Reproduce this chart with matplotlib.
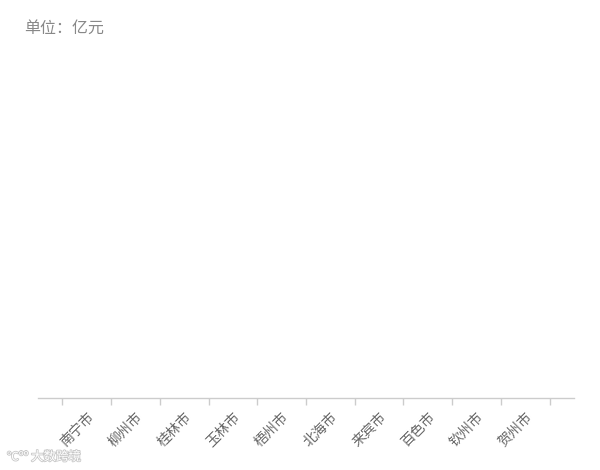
import matplotlib
matplotlib.use("Agg")
import matplotlib.pyplot as plt
import matplotlib.patheffects as pe
import matplotlib.transforms as mtrans

plt.rcParams['font.family'] = ['Noto Sans CJK SC', 'DejaVu Sans']

categories = ["南宁市", "柳州市", "桂林市", "玉林市", "梧州市", "北海市", "来宾市", "百色市", "钦州市", "贺州市"]
unit_label = "单位：亿元"
watermark = "大数跨境"

W, H = 600, 470
fig = plt.figure(figsize=(W / 100, H / 100), dpi=100)
ax = fig.add_axes([38 / W, 72 / H, (574 - 38) / W, (398 - 50) / H])

n = len(categories)
ax.set_xlim(-0.5, n + 0.5)
ax.set_ylim(0, 1)
ax.set_xticks(range(n + 1))
ax.set_xticklabels([])
ax.tick_params(axis='x', length=5, width=1, color='#cccccc', direction='out')
ax.set_yticks([])
for s in ['top', 'right', 'left']:
    ax.spines[s].set_visible(False)
ax.spines['bottom'].set_color('#cccccc')
ax.spines['bottom'].set_linewidth(1)

trans = ax.get_xaxis_transform()
offset = mtrans.ScaledTranslation(0, -12 / 100, fig.dpi_scale_trans)
for i, c in enumerate(categories):
    ax.text(i + 0.5, 0, c, transform=trans + offset, rotation=45,
            rotation_mode='anchor', ha='right', va='top',
            fontsize=10, color='#666666')

fig.text(24 / W, 1 - 28 / H, unit_label, fontsize=11.5, color='#888888',
         ha='left', va='center')

fig.text(7 / W, 1 - 457 / H, "℃ºº", fontsize=8.5, color='white', ha='left', va='center',
         path_effects=[pe.withStroke(linewidth=1.2, foreground='#c8c8c8')])
fig.text(31 / W, 1 - 457 / H, watermark, fontsize=9, color='white', ha='left', va='center',
         path_effects=[pe.withStroke(linewidth=1.2, foreground='#c8c8c8')])

fig.savefig("out.png", dpi=100, facecolor='white')
